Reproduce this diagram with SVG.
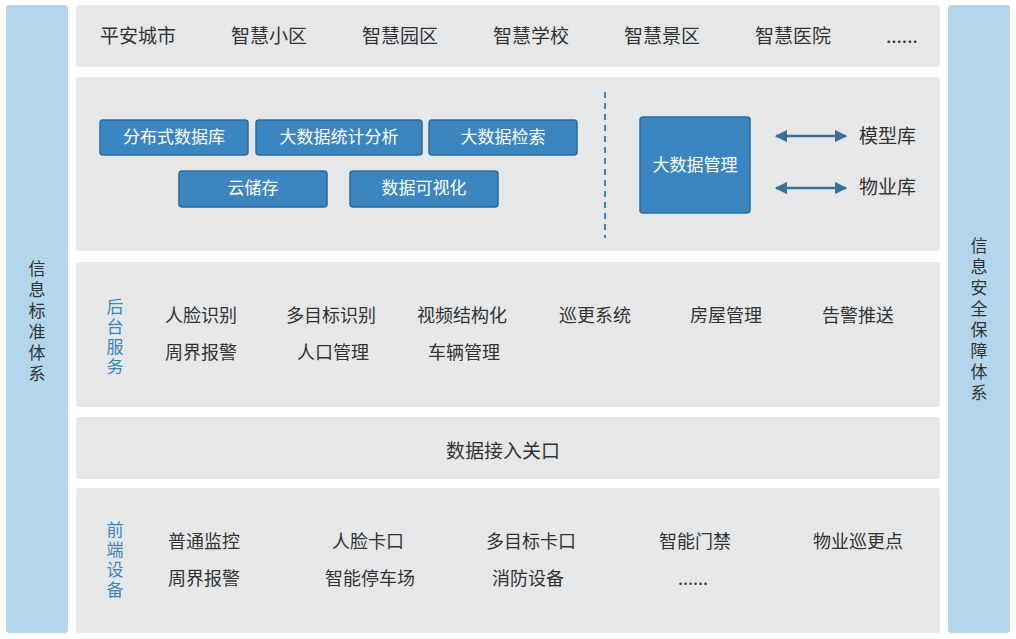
<svg xmlns="http://www.w3.org/2000/svg" width="1016" height="639" viewBox="0 0 1016 639">
<style>
.side{fill:#b4d6ec}
.panel{fill:#e6e7e9}
.t{font-family:"Noto Sans CJK SC","Noto Sans",sans-serif;font-size:19px;fill:#333}
.s{font-family:"Noto Sans CJK SC","Noto Sans",sans-serif;font-size:18px;fill:#333}
.vs{font-family:"Noto Sans CJK SC","Noto Sans",sans-serif;font-size:17px;fill:#333}
.b{fill:#3b86c0;stroke:#2e6b9c;stroke-width:1.5}
.bt{font-family:"Noto Sans CJK SC","Noto Sans",sans-serif;font-size:17px;fill:#fff;text-anchor:middle}
.v{font-family:"Noto Sans CJK SC","Noto Sans",sans-serif;font-size:17px;fill:#3b86c0}
</style>
<defs>
<marker id="a" viewBox="0 0 10 10" refX="9" refY="5" markerWidth="5" markerHeight="5" orient="auto-start-reverse"><path d="M0,0L10,5L0,10z" fill="#3a6f96"/></marker>
</defs>
<rect class="side" x="6" y="5" width="62" height="628" rx="3"/>
<rect class="side" x="948" y="5" width="62" height="628" rx="3"/>
<text class="vs" text-anchor="middle"><tspan x="37" y="275">信</tspan><tspan x="37" y="296">息</tspan><tspan x="37" y="317">标</tspan><tspan x="37" y="338">准</tspan><tspan x="37" y="359">体</tspan><tspan x="37" y="380">系</tspan></text>
<text class="vs" text-anchor="middle"><tspan x="979" y="252">信</tspan><tspan x="979" y="273">息</tspan><tspan x="979" y="294">安</tspan><tspan x="979" y="315">全</tspan><tspan x="979" y="336">保</tspan><tspan x="979" y="357">障</tspan><tspan x="979" y="378">体</tspan><tspan x="979" y="399">系</tspan></text>
<rect class="panel" x="76" y="5" width="864" height="62" rx="3"/>
<rect class="panel" x="76" y="77" width="864" height="174" rx="3"/>
<rect class="panel" x="76" y="262" width="864" height="145" rx="3"/>
<rect class="panel" x="76" y="417" width="864" height="62" rx="3"/>
<rect class="panel" x="76" y="488" width="864" height="145" rx="3"/>
<g class="t">
<text x="100" y="43">平安城市</text><text x="231" y="43">智慧小区</text><text x="362" y="43">智慧园区</text><text x="493" y="43">智慧学校</text><text x="624" y="43">智慧景区</text><text x="755" y="43">智慧医院</text><text x="886" y="43">......</text>
</g>
<g id="n1"><rect class="b" x="100" y="120" width="148" height="35" rx="3"/><text class="bt" x="174" y="143">分布式数据库</text></g>
<g id="n2"><rect class="b" x="256" y="120" width="166" height="35" rx="3"/><text class="bt" x="339" y="143">大数据统计分析</text></g>
<g id="n3"><rect class="b" x="429" y="120" width="148" height="35" rx="3"/><text class="bt" x="503" y="143">大数据检索</text></g>
<g id="n4"><rect class="b" x="179" y="171" width="148" height="36" rx="3"/><text class="bt" x="253" y="194">云储存</text></g>
<g id="n5"><rect class="b" x="350" y="171" width="148" height="36" rx="3"/><text class="bt" x="424" y="194">数据可视化</text></g>
<line x1="605" y1="92" x2="605" y2="238" stroke="#3b86c0" stroke-width="2" stroke-dasharray="6,5"/>
<g id="n6"><rect class="b" x="640" y="117" width="110" height="96" rx="3"/><text class="bt" x="695" y="171">大数据管理</text></g>
<g id="edges">
<line x1="776" y1="136" x2="846" y2="136" stroke="#3a6f96" stroke-width="2.5" marker-start="url(#a)" marker-end="url(#a)"/>
<line x1="776" y1="188" x2="846" y2="188" stroke="#3a6f96" stroke-width="2.5" marker-start="url(#a)" marker-end="url(#a)"/>
</g>
<text class="t" x="859" y="143">模型库</text>
<text class="t" x="859" y="194">物业库</text>
<text class="v" text-anchor="middle"><tspan x="115" y="313">后</tspan><tspan x="115" y="333">台</tspan><tspan x="115" y="353">服</tspan><tspan x="115" y="373">务</tspan></text>
<g class="s">
<text x="165" y="322">人脸识别</text><text x="286" y="322">多目标识别</text><text x="417" y="322">视频结构化</text><text x="559" y="322">巡更系统</text><text x="690" y="322">房屋管理</text><text x="822" y="322">告警推送</text>
<text x="165" y="359">周界报警</text><text x="297" y="359">人口管理</text><text x="428" y="359">车辆管理</text>
</g>
<text class="t" x="503" y="458" text-anchor="middle">数据接入关口</text>
<text class="v" text-anchor="middle"><tspan x="115" y="536">前</tspan><tspan x="115" y="556">端</tspan><tspan x="115" y="576">设</tspan><tspan x="115" y="596">备</tspan></text>
<g class="s">
<text x="168" y="548">普通监控</text><text x="332" y="548">人脸卡口</text><text x="486" y="548">多目标卡口</text><text x="659" y="548">智能门禁</text><text x="813" y="548">物业巡更点</text>
<text x="168" y="585">周界报警</text><text x="325" y="585">智能停车场</text><text x="492" y="585">消防设备</text><text x="678" y="585">......</text>
</g>
</svg>
